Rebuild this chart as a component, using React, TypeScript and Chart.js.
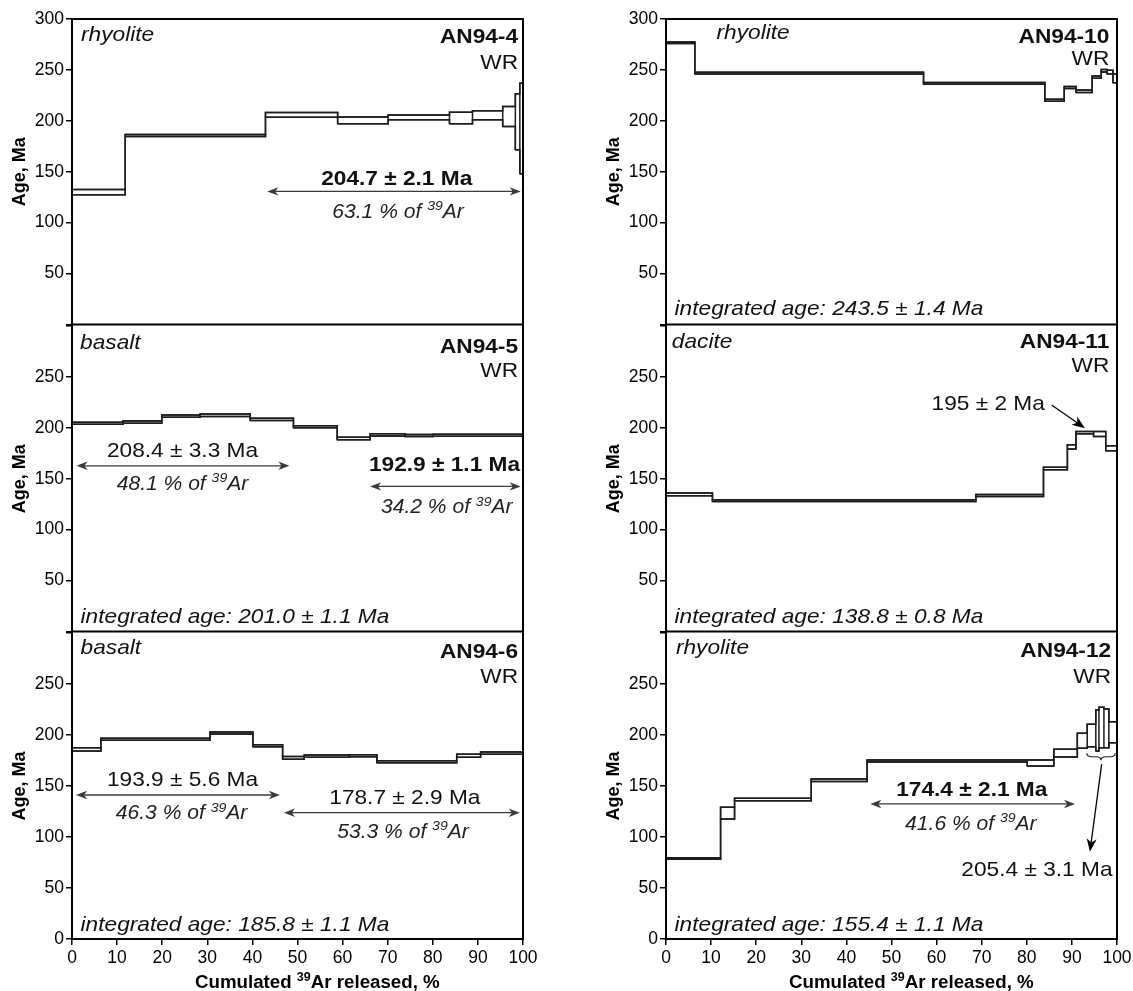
import React, { useEffect, useRef } from 'react';
import { Chart, registerables } from 'chart.js';

Chart.register(...registerables);

const FONT = "'Liberation Sans', Arial, Helvetica, sans-serif";
const TEXT_SX = 1.08;

// ---------- data (cumulative % 39Ar boundaries, step ages, 1-sigma half widths) ----------
const an94_4_cum = [0, 11.8, 42.9, 58.9, 70.1, 83.7, 88.8, 95.5, 98.3, 99.3, 100];
const an94_4_age = [130, 185.5, 205.9, 200.4, 203.4, 202.8, 205.4, 204.2, 199, 192.5];
const an94_4_err = [2.6, 1, 2.3, 3.3, 2.4, 5.7, 4.4, 9.8, 27.5, 44.5];

const an94_5_cum = [0, 11.3, 19.9, 28.4, 39.5, 49.1, 58.8, 66.1, 73.8, 80.1, 100];
const an94_5_age = [204.6, 205.6, 211.6, 212.4, 208.3, 201, 189.5, 193.1, 192.5, 192.8];
const an94_5_err = [1, 1, 1.1, 1.3, 1.2, 1, 1.3, 1, 1, 1];

const an94_6_cum = [0, 6.4, 30.6, 40.1, 46.7, 51.5, 61.5, 67.6, 85.3, 90.6, 100];
const an94_6_age = [185.9, 195.8, 202, 189.5, 177.5, 179.3, 179.7, 173.8, 179.6, 182.2];
const an94_6_err = [1.6, 1, 1, 1, 1.3, 1.1, 1, 1, 1.5, 1.1];

const an94_10_cum = [0, 6.4, 57.1, 84, 88.3, 90.9, 94.5, 96.5, 97.8, 99.1, 100];
const an94_10_age = [276.7, 246.9, 236.8, 220.3, 232.7, 229.1, 243, 249.2, 247.9, 241.8];
const an94_10_err = [0.7, 0.8, 0.8, 1, 1, 1.3, 1.1, 1.2, 1.8, 4.3];

const an94_11_cum = [0, 10.3, 68.7, 83.7, 89, 90.9, 94.8, 97.5, 100];
const an94_11_age = [134.7, 128.5, 133.6, 160.1, 181.3, 195.2, 194, 180];
const an94_11_err = [1.3, 0.8, 1, 1.3, 2, 1.1, 2.5, 2.5];

const an94_12_cum = [0, 12.1, 15.2, 32.2, 44.6, 80.1, 86, 91.2, 93.4, 95.3, 96.0, 97.1, 98.2, 100];
const an94_12_age = [79, 123.4, 136.8, 155.7, 174.5, 172.5, 182.2, 194.3, 199.5, 204.4, 207.3, 206.5, 202.8];
const an94_12_err = [0.7, 5.7, 1.2, 1.2, 1, 3, 3.8, 7.4, 11, 20, 19.8, 19, 10.3];

const yTicksMin = 0;
const yTicksMax = 300;
const yTickStep = 50;
const xTickStep = 10;

// ---------- annotations ----------
type Ann =
  | { t: 'text'; x: number; y: number; s: string; st: 'normal' | 'italic' | 'bold'; size: number; al: 'left' | 'right' | 'center' }
  | { t: 'pct'; x: number; y: number; pct: string; size: number }
  | { t: 'darrow'; x1: number; x2: number; y: number }
  | { t: 'arrow'; x1: number; y1: number; x2: number; y2: number }
  | { t: 'brace'; x1: number; x2: number; y: number };

interface Panel {
  id: string;
  col: number;
  row: number;
  cum: number[];
  age: number[];
  err: number[];
  ann: Ann[];
}

const corner = (rock: string, rockX: number, rockY: number, id: string, idX: number, idY: number, wrY: number): Ann[] => [
  { t: 'text', x: rockX, y: rockY, s: rock, st: 'italic', size: 21, al: 'left' },
  { t: 'text', x: idX, y: idY, s: id, st: 'bold', size: 21, al: 'right' },
  { t: 'text', x: idX, y: wrY, s: 'WR', st: 'normal', size: 21, al: 'right' },
];
const integrated = (s: string, y: number): Ann => ({ t: 'text', x: 1.9, y, s: 'integrated age: ' + s, st: 'italic', size: 21, al: 'left' });

const PANELS: Panel[] = [
  {
    id: 'AN94-4', col: 0, row: 0, cum: an94_4_cum, age: an94_4_age, err: an94_4_err,
    ann: [
      ...corner('rhyolite', 2.0, 286.3, 'AN94-4', 98.9, 284.3, 258.8),
      { t: 'darrow', x1: 43.3, x2: 99.5, y: 130.7 },
      { t: 'text', x: 72, y: 144.1, s: '204.7 ± 2.1 Ma', st: 'bold', size: 21, al: 'center' },
      { t: 'pct', x: 72.3, y: 111.8, pct: '63.1', size: 19.5 },
    ],
  },
  {
    id: 'AN94-5', col: 0, row: 1, cum: an94_5_cum, age: an94_5_age, err: an94_5_err,
    ann: [
      ...corner('basalt', 1.8, 284.6, 'AN94-5', 98.9, 281.4, 256.9),
      { t: 'darrow', x1: 1.0, x2: 48.2, y: 162.7 },
      { t: 'text', x: 24.5, y: 179.1, s: '208.4 ± 3.3 Ma', st: 'normal', size: 21, al: 'center' },
      { t: 'pct', x: 24.5, y: 145.8, pct: '48.1', size: 19.5 },
      { t: 'darrow', x1: 66.1, x2: 99.5, y: 142.5 },
      { t: 'text', x: 82.6, y: 165.4, s: '192.9 ± 1.1 Ma', st: 'bold', size: 21, al: 'center' },
      { t: 'pct', x: 83.1, y: 122.9, pct: '34.2', size: 19.5 },
      integrated('201.0 ± 1.1 Ma', 15.7),
    ],
  },
  {
    id: 'AN94-6', col: 0, row: 2, cum: an94_6_cum, age: an94_6_age, err: an94_6_err,
    ann: [
      ...corner('basalt', 1.9, 286.6, 'AN94-6', 98.9, 283.3, 258.8),
      { t: 'darrow', x1: 0.9, x2: 46.1, y: 141.2 },
      { t: 'text', x: 24.5, y: 157.5, s: '193.9 ± 5.6 Ma', st: 'normal', size: 21, al: 'center' },
      { t: 'pct', x: 24.3, y: 124.2, pct: '46.3', size: 19.5 },
      { t: 'darrow', x1: 47, x2: 99.3, y: 123.8 },
      { t: 'text', x: 73.8, y: 139.5, s: '178.7 ± 2.9 Ma', st: 'normal', size: 21, al: 'center' },
      { t: 'pct', x: 73.4, y: 105.9, pct: '53.3', size: 19.5 },
      integrated('185.8 ± 1.1 Ma', 15.4),
    ],
  },
  {
    id: 'AN94-10', col: 1, row: 0, cum: an94_10_cum, age: an94_10_age, err: an94_10_err,
    ann: [
      ...corner('rhyolite', 11.2, 287.3, 'AN94-10', 98.3, 284.3, 262.7),
      integrated('243.5 ± 1.4 Ma', 16.7),
    ],
  },
  {
    id: 'AN94-11', col: 1, row: 1, cum: an94_11_cum, age: an94_11_age, err: an94_11_err,
    ann: [
      ...corner('dacite', 1.3, 286.3, 'AN94-11', 98.3, 286.3, 261.8),
      { t: 'text', x: 84.0, y: 224.8, s: '195 ± 2 Ma', st: 'normal', size: 21, al: 'right' },
      { t: 'arrow', x1: 85.5, y1: 222.5, x2: 92.9, y2: 199.7 },
      integrated('138.8 ± 0.8 Ma', 15.7),
    ],
  },
  {
    id: 'AN94-12', col: 1, row: 2, cum: an94_12_cum, age: an94_12_age, err: an94_12_err,
    ann: [
      ...corner('rhyolite', 2.2, 286.6, 'AN94-12', 98.7, 284.3, 258.8),
      { t: 'darrow', x1: 45.3, x2: 90.7, y: 132.4 },
      { t: 'text', x: 67.8, y: 147.5, s: '174.4 ± 2.1 Ma', st: 'bold', size: 21, al: 'center' },
      { t: 'pct', x: 67.6, y: 114, pct: '41.6', size: 19.5 },
      { t: 'brace', x1: 93.3, x2: 99.6, y: 182.1 },
      { t: 'arrow', x1: 96.6, y1: 171.5, x2: 94.0, y2: 85.6 },
      { t: 'text', x: 99.0, y: 69.3, s: '205.4 ± 3.1 Ma', st: 'normal', size: 21, al: 'right' },
      integrated('155.4 ± 1.1 Ma', 15.4),
    ],
  },
];

// ---------- layout ----------
const COLS = [
  { canvasLeft: 0, plotLeft: 72, plotRight: 523, titleX: 20 },
  { canvasLeft: 590, plotLeft: 666, plotRight: 1117, titleX: 614 },
];
const ROW_TOP = [19, 326, 633];
const PLOT_H = 306;
const X_AXIS_H = 52;
const Y_TITLE_SIZE = 18;

function geometry(p: Panel) {
  const c = COLS[p.col];
  const top = p.row === 0 ? 0 : ROW_TOP[p.row] - 15;
  const padTop = ROW_TOP[p.row] - top;
  const padBottom = p.row === 2 ? 0 : 12;
  const h = padTop + PLOT_H + padBottom + (p.row === 2 ? X_AXIS_H : 0);
  const padRight = 20;
  const w = c.plotRight + padRight - c.canvasLeft;
  const padLeft = c.titleX - (Y_TITLE_SIZE * 1.2) / 2 - c.canvasLeft;
  const yWidth = c.plotLeft - c.canvasLeft - padLeft;
  return { left: c.canvasLeft, top, w, h, padTop, padBottom, padRight, padLeft, yWidth };
}

// ---------- drawing helpers ----------
function fontStr(st: string, size: number) {
  return `${st === 'italic' ? 'italic ' : ''}${st === 'bold' ? 'bold ' : ''}${size}px ${FONT}`;
}

function drawRuns(ctx: CanvasRenderingContext2D, runs: { s: string; font: string; dy: number }[], px: number, baseY: number, al: string, sx: number) {
  ctx.save();
  ctx.textBaseline = 'alphabetic';
  ctx.textAlign = 'left';
  const widths = runs.map((r) => {
    ctx.font = r.font;
    return ctx.measureText(r.s).width * sx;
  });
  const total = widths.reduce((a, b) => a + b, 0);
  let x = al === 'left' ? px : al === 'right' ? px - total : px - total / 2;
  runs.forEach((r, i) => {
    ctx.save();
    ctx.font = r.font;
    ctx.translate(x, baseY + r.dy);
    ctx.scale(sx, 1);
    ctx.fillText(r.s, 0, 0);
    ctx.restore();
    x += widths[i];
  });
  ctx.restore();
}

function arrowHead(ctx: CanvasRenderingContext2D, x: number, y: number, ang: number, len: number, w: number) {
  const c = Math.cos(ang);
  const s = Math.sin(ang);
  const bx = x - len * c;
  const by = y - len * s;
  ctx.beginPath();
  ctx.moveTo(x, y);
  ctx.lineTo(bx - w * s, by + w * c);
  ctx.lineTo(x - len * 0.72 * c, y - len * 0.72 * s);
  ctx.lineTo(bx + w * s, by - w * c);
  ctx.closePath();
  ctx.fill();
}

function makeAnnotationPlugin(p: Panel) {
  return {
    id: 'ann_' + p.id,
    afterDatasetsDraw(chart: any) {
      const ctx: CanvasRenderingContext2D = chart.ctx;
      const xs = chart.scales.x;
      const ys = chart.scales.y;
      const area = chart.chartArea;
      ctx.save();
      // frame (top edge only on the first row; lower rows share the edge above)
      ctx.strokeStyle = '#000';
      ctx.lineWidth = 2;
      ctx.beginPath();
      if (p.row === 0) {
        ctx.moveTo(area.left, area.top);
        ctx.lineTo(area.right, area.top);
      }
      ctx.moveTo(area.right, area.top - 1);
      ctx.lineTo(area.right, area.bottom);
      ctx.lineTo(area.left, area.bottom);
      ctx.lineTo(area.left, area.top - 1);
      ctx.stroke();

      for (const a of p.ann) {
        if (a.t === 'text') {
          ctx.fillStyle = '#111';
          drawRuns(ctx, [{ s: a.s, font: fontStr(a.st, a.size), dy: 0 }], xs.getPixelForValue(a.x), ys.getPixelForValue(a.y) + 0.36 * a.size, a.al, TEXT_SX);
        } else if (a.t === 'pct') {
          ctx.fillStyle = '#222';
          const f = fontStr('italic', a.size);
          const fs = fontStr('italic', Math.round(a.size * 0.68));
          drawRuns(
            ctx,
            [
              { s: `${a.pct} % of `, font: f, dy: 0 },
              { s: '39', font: fs, dy: -a.size * 0.4 },
              { s: 'Ar', font: f, dy: 0 },
            ],
            xs.getPixelForValue(a.x),
            ys.getPixelForValue(a.y) + 0.36 * a.size,
            'center',
            TEXT_SX
          );
        } else if (a.t === 'darrow') {
          const x1 = xs.getPixelForValue(a.x1);
          const x2 = xs.getPixelForValue(a.x2);
          const y = ys.getPixelForValue(a.y);
          ctx.strokeStyle = '#3a3a3a';
          ctx.fillStyle = '#3a3a3a';
          ctx.lineWidth = 1.3;
          ctx.beginPath();
          ctx.moveTo(x1 + 5, y);
          ctx.lineTo(x2 - 5, y);
          ctx.stroke();
          arrowHead(ctx, x2, y, 0, 11, 4.2);
          arrowHead(ctx, x1, y, Math.PI, 11, 4.2);
        } else if (a.t === 'arrow') {
          const x1 = xs.getPixelForValue(a.x1);
          const y1 = ys.getPixelForValue(a.y1);
          const x2 = xs.getPixelForValue(a.x2);
          const y2 = ys.getPixelForValue(a.y2);
          const ang = Math.atan2(y2 - y1, x2 - x1);
          ctx.strokeStyle = '#000';
          ctx.fillStyle = '#000';
          ctx.lineWidth = 1.3;
          ctx.beginPath();
          ctx.moveTo(x1, y1);
          ctx.lineTo(x2 - 6 * Math.cos(ang), y2 - 6 * Math.sin(ang));
          ctx.stroke();
          arrowHead(ctx, x2, y2, ang, 13, 5);
        } else if (a.t === 'brace') {
          const x1 = xs.getPixelForValue(a.x1);
          const x2 = xs.getPixelForValue(a.x2);
          const y = ys.getPixelForValue(a.y);
          const d = 7;
          const r = 5;
          const mid = (x1 + x2) / 2;
          ctx.strokeStyle = '#222';
          ctx.lineWidth = 1.2;
          ctx.beginPath();
          ctx.moveTo(x1, y);
          ctx.quadraticCurveTo(x1, y + d / 2, x1 + r, y + d / 2);
          ctx.lineTo(mid - r, y + d / 2);
          ctx.quadraticCurveTo(mid, y + d / 2, mid, y + d);
          ctx.quadraticCurveTo(mid, y + d / 2, mid + r, y + d / 2);
          ctx.lineTo(x2 - r, y + d / 2);
          ctx.quadraticCurveTo(x2, y + d / 2, x2, y);
          ctx.stroke();
        }
      }

      // x axis title on bottom row
      if (p.row === 2) {
        ctx.fillStyle = '#000';
        const base = area.bottom + 49;
        drawRuns(
          ctx,
          [
            { s: 'Cumulated ', font: fontStr('bold', 18), dy: 0 },
            { s: '39', font: fontStr('bold', 12), dy: -7 },
            { s: 'Ar released, %', font: fontStr('bold', 18), dy: 0 },
          ],
          xs.getPixelForValue(54.4),
          base,
          'center',
          1.04
        );
      }
      ctx.restore();
    },
  };
}

function stepDatasets(cum: number[], age: number[], err: number[]) {
  const boxes: { x: number; y: number | null }[] = [];
  const upper: { x: number; y: number }[] = [];
  const lower: { x: number; y: number }[] = [];
  for (let i = 0; i < age.length; i++) {
    const lo = age[i] - err[i];
    const hi = age[i] + err[i];
    boxes.push(
      { x: cum[i], y: lo },
      { x: cum[i], y: hi },
      { x: cum[i + 1], y: hi },
      { x: cum[i + 1], y: lo },
      { x: cum[i], y: lo },
      { x: cum[i + 1], y: null }
    );
    upper.push({ x: cum[i], y: hi }, { x: cum[i + 1], y: hi });
    lower.push({ x: cum[i], y: lo }, { x: cum[i + 1], y: lo });
  }
  const style = {
    showLine: true,
    borderColor: '#1c1c1c',
    borderWidth: 1.5,
    pointRadius: 0,
    pointHoverRadius: 0,
    fill: false,
    spanGaps: false,
    tension: 0,
  };
  return [
    { label: 'steps', data: boxes, ...style },
    { label: 'upper', data: upper, ...style },
    { label: 'lower', data: lower, ...style },
  ];
}

function PanelChart({ panel }: { panel: Panel }) {
  const ref = useRef<HTMLCanvasElement>(null);
  const g = geometry(panel);
  useEffect(() => {
    if (!ref.current) return;
    const isBottom = panel.row === 2;
    const isTop = panel.row === 0;
    const chart = new Chart(ref.current, {
      type: 'scatter',
      data: { datasets: stepDatasets(panel.cum, panel.age, panel.err) as any },
      options: {
        responsive: false,
        animation: false,
        events: [],
        layout: { padding: { top: g.padTop, bottom: g.padBottom, left: g.padLeft, right: g.padRight } },
        plugins: { legend: { display: false }, tooltip: { enabled: false } },
        scales: {
          x: {
            type: 'linear',
            min: 0,
            max: 100,
            display: isBottom,
            border: { display: false },
            grid: { drawOnChartArea: false, drawTicks: true, tickLength: 6, color: '#000', lineWidth: 1.5 },
            ticks: {
              stepSize: xTickStep,
              autoSkip: false,
              maxRotation: 0,
              color: '#000',
              padding: 3,
              font: { family: FONT, size: 17.5 },
            },
            afterFit: (s: any) => {
              if (isBottom) s.height = X_AXIS_H;
            },
          },
          y: {
            type: 'linear',
            min: yTicksMin,
            max: yTicksMax,
            border: { display: false },
            grid: { drawOnChartArea: false, drawTicks: true, tickLength: 6, color: '#000', lineWidth: 1.5 },
            ticks: {
              stepSize: yTickStep,
              color: '#000',
              padding: 2,
              font: { family: FONT, size: 17.5 },
              callback: (v: any) => {
                if (v === yTicksMax && !isTop) return '';
                if (v === yTicksMin && !isBottom) return '';
                return String(v);
              },
            },
            title: {
              display: true,
              text: 'Age, Ma',
              color: '#000',
              padding: 0,
              font: { family: FONT, size: Y_TITLE_SIZE, weight: 'bold' },
            },
            afterFit: (s: any) => {
              s.width = g.yWidth;
            },
          },
        },
      } as any,
      plugins: [makeAnnotationPlugin(panel)],
    });
    return () => chart.destroy();
  }, []);
  return (
    <canvas
      ref={ref}
      width={g.w}
      height={g.h}
      style={{ position: 'absolute', left: g.left, top: g.top, width: g.w, height: g.h }}
    />
  );
}

export default function App() {
  return (
    <div style={{ position: 'absolute', left: 0, top: 0, width: 1133, height: 991, background: '#fff', overflow: 'hidden' }}>
      {PANELS.map((p) => (
        <PanelChart key={p.id} panel={p} />
      ))}
    </div>
  );
}
